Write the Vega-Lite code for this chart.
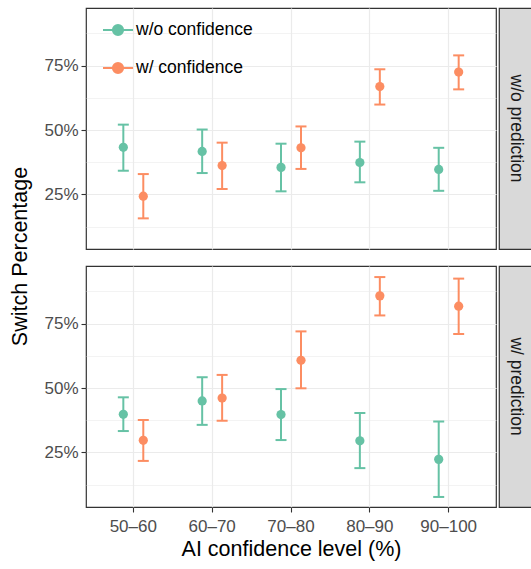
{
  "$schema": "https://vega.github.io/schema/vega-lite/v6.json",
  "background": "white",
  "padding": {"left": 0, "top": 7, "right": 0, "bottom": 0},
  "datasets": {
    "pts": [
      {"pred": "w/o prediction", "level": "50–60", "conf": "w/o confidence", "pct": 43.3, "lo": 34.2, "hi": 52.1},
      {"pred": "w/o prediction", "level": "50–60", "conf": "w/ confidence", "pct": 24.3, "lo": 15.7, "hi": 32.9},
      {"pred": "w/o prediction", "level": "60–70", "conf": "w/o confidence", "pct": 41.7, "lo": 33.3, "hi": 50.2},
      {"pred": "w/o prediction", "level": "60–70", "conf": "w/ confidence", "pct": 36.2, "lo": 27.1, "hi": 45.1},
      {"pred": "w/o prediction", "level": "70–80", "conf": "w/o confidence", "pct": 35.5, "lo": 26.2, "hi": 44.7},
      {"pred": "w/o prediction", "level": "70–80", "conf": "w/ confidence", "pct": 43.1, "lo": 34.9, "hi": 51.4},
      {"pred": "w/o prediction", "level": "80–90", "conf": "w/o confidence", "pct": 37.4, "lo": 29.7, "hi": 45.5},
      {"pred": "w/o prediction", "level": "80–90", "conf": "w/ confidence", "pct": 66.9, "lo": 59.9, "hi": 73.6},
      {"pred": "w/o prediction", "level": "90–100", "conf": "w/o confidence", "pct": 34.7, "lo": 26.4, "hi": 43.1},
      {"pred": "w/o prediction", "level": "90–100", "conf": "w/ confidence", "pct": 72.5, "lo": 65.8, "hi": 79.0},
      {"pred": "w/ prediction", "level": "50–60", "conf": "w/o confidence", "pct": 39.8, "lo": 33.3, "hi": 46.4},
      {"pred": "w/ prediction", "level": "50–60", "conf": "w/ confidence", "pct": 29.7, "lo": 21.7, "hi": 37.6},
      {"pred": "w/ prediction", "level": "60–70", "conf": "w/o confidence", "pct": 45.0, "lo": 35.7, "hi": 54.2},
      {"pred": "w/ prediction", "level": "60–70", "conf": "w/ confidence", "pct": 46.1, "lo": 37.3, "hi": 55.1},
      {"pred": "w/ prediction", "level": "70–80", "conf": "w/o confidence", "pct": 39.7, "lo": 29.8, "hi": 49.6},
      {"pred": "w/ prediction", "level": "70–80", "conf": "w/ confidence", "pct": 60.8, "lo": 49.9, "hi": 72.0},
      {"pred": "w/ prediction", "level": "80–90", "conf": "w/o confidence", "pct": 29.5, "lo": 18.9, "hi": 40.3},
      {"pred": "w/ prediction", "level": "80–90", "conf": "w/ confidence", "pct": 85.8, "lo": 78.2, "hi": 93.1},
      {"pred": "w/ prediction", "level": "90–100", "conf": "w/o confidence", "pct": 22.3, "lo": 7.7, "hi": 37.0},
      {"pred": "w/ prediction", "level": "90–100", "conf": "w/ confidence", "pct": 81.8, "lo": 71.0, "hi": 92.5}
    ],
    "strips": [
      {"pred": "w/o prediction"},
      {"pred": "w/ prediction"}
    ],
    "ytitle": [
      {"t": "Switch Percentage"}
    ]
  },
  "config": {
    "font": "Liberation Sans",
    "view": {"stroke": "#333333", "strokeWidth": 1.2},
    "axis": {
      "gridColor": "#EBEBEB", "gridWidth": 1.2, "domain": false,
      "tickColor": "#333333", "tickSize": 5, "tickWidth": 1.1,
      "labelColor": "#4D4D4D", "labelFontSize": 17, "labelPadding": 3,
      "titleFontSize": 21.5, "titleFontWeight": "normal", "titleColor": "#000000"
    }
  },
  "spacing": 1,
  "hconcat": [
    {
      "width": 42, "height": 497,
      "data": {"name": "ytitle"},
      "view": {"stroke": null},
      "mark": {"type": "text", "angle": 270, "fontSize": 21.5, "color": "#000000"},
      "encoding": {"text": {"field": "t"}}
    },
    {
      "spacing": 15,
      "vconcat": [
        {
          "width": 410, "height": 241,
          "data": {"name": "pts"},
          "transform": [{"filter": "datum.pred === 'w/o prediction'"}],
          "encoding": {
            "x": {"field": "level", "type": "nominal", "sort": ["50–60", "60–70", "70–80", "80–90", "90–100"],
                  "scale": {"paddingInner": 0, "paddingOuter": 0.1},
                  "axis": {"labels": false, "ticks": false, "title": null, "grid": true}},
            "xOffset": {"field": "conf", "type": "nominal", "sort": ["w/o confidence", "w/ confidence"],
                        "scale": {"paddingInner": 0, "paddingOuter": 0.975}},
            "color": {"field": "conf", "type": "nominal",
                      "scale": {"domain": ["w/o confidence", "w/ confidence"], "range": ["#66C2A5", "#FC8D62"]},
                      "legend": {
                        "title": null, "orient": "none", "legendX": 102, "legendY": 6,
                        "symbolType": "M-1,0H1M0.34,0A0.34,0.34,0,1,1,-0.34,0A0.34,0.34,0,1,1,0.34,0Z",
                        "symbolSize": 900, "symbolStrokeWidth": 2, "symbolOpacity": 1,
                        "labelFontSize": 17.5, "labelColor": "#000000", "labelOffset": 2, "rowPadding": 12,
                        "encode": {"symbols": {"update": {
                          "fill": {"scale": "color", "field": "value"},
                          "stroke": {"scale": "color", "field": "value"},
                          "opacity": {"value": 1}}}}
                      }}
          },
          "layer": [
            {"mark": {"type": "rule", "strokeWidth": 2},
             "encoding": {
               "y": {"field": "lo", "type": "quantitative", "scale": {"domain": [3.8, 97.4], "nice": false, "zero": false},
                     "axis": {"orient": "right", "values": [12.5, 37.5, 62.5, 87.5], "grid": true, "gridWidth": 0.6,
                              "labels": false, "ticks": false, "title": null}},
               "y2": {"field": "hi"}}},
            {"mark": {"type": "tick", "size": 11, "thickness": 2, "opacity": 1},
             "encoding": {"y": {"field": "lo", "type": "quantitative", "axis": null}}},
            {"mark": {"type": "tick", "size": 11, "thickness": 2, "opacity": 1},
             "encoding": {"y": {"field": "hi", "type": "quantitative", "axis": null}}},
            {"mark": {"type": "point", "filled": true, "size": 85, "opacity": 1},
             "encoding": {"y": {"field": "pct", "type": "quantitative",
                                "axis": {"values": [25, 50, 75], "labelExpr": "datum.value + '%'", "grid": true, "title": null}}}}
          ],
          "resolve": {"axis": {"y": "independent"}}
        },
        {
          "width": 410, "height": 241,
          "data": {"name": "pts"},
          "transform": [{"filter": "datum.pred === 'w/ prediction'"}],
          "encoding": {
            "x": {"field": "level", "type": "nominal", "sort": ["50–60", "60–70", "70–80", "80–90", "90–100"],
                  "scale": {"paddingInner": 0, "paddingOuter": 0.1},
                  "axis": {"title": "AI confidence level (%)", "labelAngle": 0, "grid": true, "labelPadding": 6, "titlePadding": 4}},
            "xOffset": {"field": "conf", "type": "nominal", "sort": ["w/o confidence", "w/ confidence"],
                        "scale": {"paddingInner": 0, "paddingOuter": 0.975}},
            "color": {"field": "conf", "type": "nominal", "legend": null}
          },
          "layer": [
            {"mark": {"type": "rule", "strokeWidth": 2},
             "encoding": {
               "y": {"field": "lo", "type": "quantitative", "scale": {"domain": [3.8, 97.4], "nice": false, "zero": false},
                     "axis": {"orient": "right", "values": [12.5, 37.5, 62.5, 87.5], "grid": true, "gridWidth": 0.6,
                              "labels": false, "ticks": false, "title": null}},
               "y2": {"field": "hi"}}},
            {"mark": {"type": "tick", "size": 11, "thickness": 2, "opacity": 1},
             "encoding": {"y": {"field": "lo", "type": "quantitative", "axis": null}}},
            {"mark": {"type": "tick", "size": 11, "thickness": 2, "opacity": 1},
             "encoding": {"y": {"field": "hi", "type": "quantitative", "axis": null}}},
            {"mark": {"type": "point", "filled": true, "size": 85, "opacity": 1},
             "encoding": {"y": {"field": "pct", "type": "quantitative",
                                "axis": {"values": [25, 50, 75], "labelExpr": "datum.value + '%'", "grid": true, "title": null}}}}
          ],
          "resolve": {"axis": {"y": "independent"}}
        }
      ]
    },
    {
      "spacing": 15,
      "vconcat": [
        {
          "width": 33, "height": 241,
          "data": {"name": "strips"},
          "transform": [{"filter": "datum.pred === 'w/o prediction'"}],
          "view": {"fill": "#D9D9D9", "stroke": "#333333", "strokeWidth": 1.2},
          "mark": {"type": "text", "angle": 90, "fontSize": 17.5, "color": "#1A1A1A"},
          "encoding": {"text": {"field": "pred"}}
        },
        {
          "width": 33, "height": 241,
          "data": {"name": "strips"},
          "transform": [{"filter": "datum.pred === 'w/ prediction'"}],
          "view": {"fill": "#D9D9D9", "stroke": "#333333", "strokeWidth": 1.2},
          "mark": {"type": "text", "angle": 90, "fontSize": 17.5, "color": "#1A1A1A"},
          "encoding": {"text": {"field": "pred"}}
        }
      ]
    }
  ]
}
